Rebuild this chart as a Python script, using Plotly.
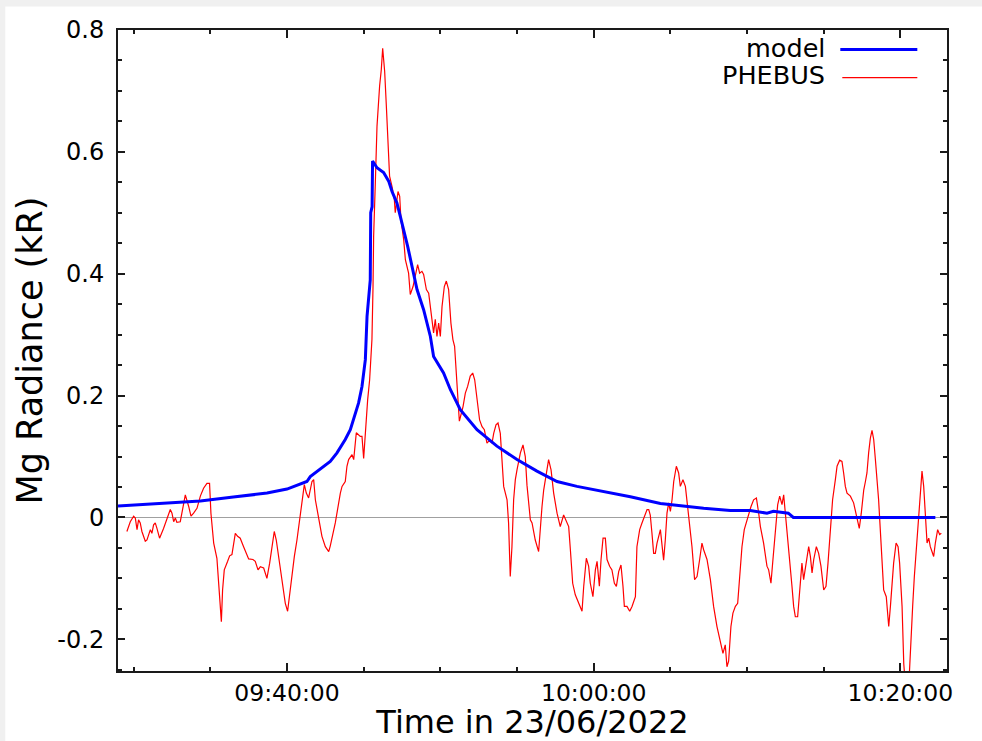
import plotly.graph_objects as go
import pandas as pd

# ---- data (time in minutes after 09:00:00 on 23/06/2022) ----
model_min = [28.98, 31.41, 34.35, 36.50, 38.70, 40.00, 41.30, 41.52, 42.82, 43.26,
             43.80, 44.13, 44.45, 44.67, 44.89, 45.11, 45.22, 45.43, 45.46, 45.55,
             45.58, 45.87, 46.30, 46.63, 46.85, 47.17, 47.39, 47.61, 47.87, 48.48,
             48.91, 49.35, 49.56, 50.21, 50.65, 51.30, 52.39, 53.69, 55.00, 56.30,
             57.61, 58.91, 60.65, 62.39, 64.35, 67.17, 68.91, 70.21, 71.30, 71.72,
             72.69, 73.02, 82.28]
model_val = [0.019, 0.0225, 0.027, 0.0335, 0.040, 0.0466, 0.059, 0.067, 0.092, 0.106,
             0.128, 0.144, 0.172, 0.188, 0.215, 0.259, 0.33, 0.39, 0.50, 0.51,
             0.585, 0.574, 0.566, 0.552, 0.535, 0.516, 0.494, 0.472, 0.445, 0.374,
             0.341, 0.297, 0.264, 0.237, 0.21, 0.177, 0.144, 0.117, 0.095, 0.076,
             0.059, 0.051, 0.043, 0.034, 0.023, 0.015, 0.0115, 0.0115, 0.007, 0.010,
             0.007, 0.0, 0.0]

phebus_min = [
    29.56, 29.78, 30.00, 30.11, 30.22, 30.32, 30.43, 30.54, 30.76, 30.87,
    31.09, 31.19, 31.30, 31.41, 31.52, 31.69, 31.95, 32.17, 32.39, 32.50,
    32.61, 32.72, 32.82, 33.04, 33.22, 33.37, 33.59, 33.74, 33.91, 34.13,
    34.35, 34.56, 34.78, 34.95, 35.04, 35.22, 35.43, 35.54, 35.65, 35.72,
    35.80, 35.91, 36.13, 36.26, 36.41, 36.52, 36.63, 36.78, 36.95, 37.17,
    37.50, 37.78, 37.93, 38.11, 38.26, 38.48, 38.69, 38.87, 39.02, 39.17,
    39.30, 39.45, 39.67, 39.89, 40.04, 40.17, 40.32, 40.48, 40.65, 40.87,
    41.04, 41.13, 41.26, 41.41, 41.63, 41.74, 41.85, 42.06, 42.28, 42.50,
    42.72, 42.82, 43.15, 43.48, 43.59, 43.80, 43.91, 44.02, 44.24, 44.35,
    44.52, 44.78, 44.89, 45.00, 45.11, 45.26, 45.39, 45.54, 45.61, 45.65,
    45.76, 45.87, 46.04, 46.15, 46.24, 46.30, 46.37, 46.48, 46.59, 46.69,
    46.85, 47.00, 47.06, 47.24, 47.35, 47.43, 47.61, 47.72, 47.93, 48.04,
    48.22, 48.37, 48.52, 48.65, 48.80, 48.91, 49.09, 49.24, 49.35, 49.45,
    49.56, 49.67, 49.78, 49.89, 50.00, 50.11, 50.26, 50.39, 50.54, 50.69,
    50.82, 50.93, 51.04, 51.13, 51.24, 51.37, 51.48, 51.63, 51.78, 51.95,
    52.11, 52.24, 52.39, 52.56, 52.72, 52.87, 53.04, 53.22, 53.37, 53.48,
    53.63, 53.76, 53.91, 54.02, 54.13, 54.35, 54.45, 54.56, 54.67, 54.78,
    54.89, 55.00, 55.22, 55.39, 55.54, 55.65, 55.87, 55.98, 56.19, 56.41,
    56.48, 56.63, 56.74, 56.85, 56.95, 57.06, 57.22, 57.35, 57.39, 57.61,
    57.82, 58.04, 58.26, 58.37, 58.48, 58.63, 58.80, 59.02, 59.13, 59.24,
    59.35, 59.52, 59.67, 59.78, 59.95, 60.11, 60.22, 60.37, 60.48, 60.61,
    60.76, 60.87, 61.04, 61.19, 61.35, 61.48, 61.63, 61.78, 61.91, 62.00,
    62.17, 62.35, 62.50, 62.72, 62.82, 63.00, 63.15, 63.30, 63.48, 63.59,
    63.69, 63.80, 63.91, 64.02, 64.13, 64.35, 64.45, 64.56, 64.67, 64.78,
    64.89, 65.00, 65.11, 65.22, 65.39, 65.54, 65.65, 65.82, 65.98, 66.19,
    66.41, 66.58, 66.74, 66.91, 67.06, 67.17, 67.39, 67.61, 67.82, 68.04,
    68.26, 68.43, 68.58, 68.69, 68.80, 68.95, 69.08, 69.24, 69.39, 69.52,
    69.67, 69.82, 69.95, 70.11, 70.26, 70.43, 70.61, 70.76, 70.87, 71.08,
    71.30, 71.41, 71.56, 71.69, 71.85, 72.00, 72.13, 72.28, 72.39, 72.50,
    72.61, 72.78, 72.93, 73.04, 73.15, 73.30, 73.43, 73.58, 73.69, 73.87,
    74.02, 74.13, 74.24, 74.35, 74.52, 74.67, 74.82, 75.00, 75.15, 75.28,
    75.43, 75.58, 75.76, 75.87, 76.04, 76.19, 76.30, 76.41, 76.52, 76.74,
    76.95, 77.17, 77.32, 77.45, 77.61, 77.72, 77.82, 77.93, 78.04, 78.15,
    78.26, 78.37, 78.52, 78.58, 78.69, 78.80, 78.91, 79.08, 79.24, 79.35,
    79.45, 79.56, 79.72, 79.85, 79.95, 80.11, 80.22, 80.37, 80.54, 80.65,
    80.80, 80.91, 81.04, 81.15, 81.26, 81.35, 81.41, 81.52, 81.63, 81.74,
    81.85, 81.95, 82.06, 82.17, 82.28, 82.43, 82.56, 82.67]
phebus_val = [
    -0.023, -0.007, 0.002, -0.001, -0.020, -0.004, -0.009, -0.023, -0.039, -0.037,
    -0.020, -0.026, -0.012, -0.009, -0.018, -0.034, -0.018, -0.004, 0.013, 0.007,
    -0.007, -0.001, -0.008, -0.007, 0.018, 0.037, 0.018, 0.002, 0.007, 0.015,
    0.035, 0.048, 0.056, 0.056, 0.007, -0.042, -0.067, -0.102, -0.135, -0.171,
    -0.119, -0.086, -0.072, -0.063, -0.061, -0.045, -0.026, -0.031, -0.034, -0.048,
    -0.068, -0.069, -0.072, -0.086, -0.081, -0.083, -0.100, -0.075, -0.048, -0.023,
    -0.037, -0.064, -0.097, -0.141, -0.154, -0.124, -0.097, -0.064, -0.037, 0.007,
    0.045, 0.054, 0.040, 0.032, 0.059, 0.062, 0.029, 0.002, -0.031, -0.048,
    -0.056, -0.047, -0.009, 0.040, 0.051, 0.059, 0.084, 0.095, 0.103, 0.095,
    0.139, 0.133, 0.133, 0.097, 0.139, 0.193, 0.226, 0.292, 0.379, 0.461,
    0.549, 0.642, 0.708, 0.735, 0.770, 0.757, 0.732, 0.675, 0.609, 0.560,
    0.543, 0.522, 0.500, 0.535, 0.527, 0.489, 0.456, 0.423, 0.401, 0.366,
    0.379, 0.396, 0.415, 0.401, 0.404, 0.399, 0.374, 0.368, 0.346, 0.319,
    0.303, 0.325, 0.297, 0.319, 0.297, 0.346, 0.379, 0.388, 0.374, 0.319,
    0.292, 0.281, 0.237, 0.188, 0.158, 0.171, 0.182, 0.204, 0.215, 0.232,
    0.237, 0.226, 0.193, 0.160, 0.149, 0.144, 0.122, 0.127, 0.122, 0.138,
    0.152, 0.155, 0.138, 0.100, 0.051, 0.029, -0.009, -0.097, -0.048, 0.029,
    0.062, 0.078, 0.106, 0.119, 0.100, 0.053, -0.004, -0.009, -0.037, -0.056,
    -0.026, 0.018, 0.045, 0.062, 0.073, 0.095, 0.078, 0.051, 0.040, 0.007,
    -0.015, 0.004, -0.009, -0.015, -0.053, -0.108, -0.127, -0.141, -0.146, -0.154,
    -0.113, -0.067, -0.080, -0.108, -0.130, -0.086, -0.072, -0.113, -0.069, -0.034,
    -0.034, -0.069, -0.080, -0.086, -0.108, -0.113, -0.089, -0.078, -0.113, -0.146,
    -0.146, -0.154, -0.146, -0.130, -0.048, -0.020, -0.009, 0.002, 0.013, 0.013,
    0.004, -0.026, -0.059, -0.059, -0.042, -0.020, -0.042, -0.070, -0.037, 0.007,
    0.024, 0.010, 0.029, 0.059, 0.084, 0.073, 0.051, 0.062, 0.051, 0.007,
    -0.048, -0.102, -0.097, -0.069, -0.042, -0.053, -0.069, -0.102, -0.146, -0.179,
    -0.206, -0.223, -0.209, -0.245, -0.236, -0.179, -0.157, -0.146, -0.141, -0.097,
    -0.048, -0.020, -0.009, 0.007, 0.018, 0.029, 0.032, 0.007, -0.015, -0.042,
    -0.080, -0.086, -0.108, -0.069, -0.026, 0.021, 0.035, 0.021, 0.037, 0.007,
    -0.015, -0.069, -0.113, -0.146, -0.163, -0.163, -0.119, -0.075, -0.102, -0.069,
    -0.048, -0.064, -0.091, -0.069, -0.048, -0.059, -0.080, -0.119, -0.113, -0.075,
    -0.020, 0.029, 0.062, 0.084, 0.094, 0.092, 0.073, 0.051, 0.040, 0.035,
    0.024, 0.002, -0.018, 0.007, 0.045, 0.059, 0.073, 0.106, 0.130, 0.143,
    0.128, 0.095, 0.051, 0.029, -0.020, -0.075, -0.119, -0.130, -0.179, -0.146,
    -0.102, -0.075, -0.042, -0.048, -0.075, -0.146, -0.240, -0.290, -0.280, -0.217,
    -0.146, -0.097, -0.053, -0.020, 0.029, 0.056, 0.076, 0.051, -0.004, -0.042,
    -0.034, -0.048, -0.056, -0.064, -0.042, -0.020, -0.028, -0.026]

y_tickvals = [-0.2, 0.0, 0.2, 0.4, 0.6, 0.8]
y_ticktext = ["-0.2", "0", "0.2", "0.4", "0.6", "0.8"]
x_range_min = [28.98, 83.04]

base = pd.Timestamp("2022-06-23 09:00:00")


def to_time(mins):
    return [(base + pd.Timedelta(minutes=m)).strftime("%Y-%m-%d %H:%M:%S.%f") for m in mins]


FONT = "DejaVu Sans"
AX = "#1a1a1a"

fig = go.Figure()
fig.add_trace(go.Scatter(x=to_time(phebus_min), y=phebus_val, mode="lines",
                         name="PHEBUS", line=dict(color="#ff0000", width=1.2)))
fig.add_trace(go.Scatter(x=to_time(model_min), y=model_val, mode="lines",
                         name="model", line=dict(color="#0000ff", width=3)))

fig.update_layout(
    width=982, height=741,
    margin=dict(l=118, r=35, t=30, b=70),
    paper_bgcolor="white", plot_bgcolor="white",
    showlegend=False,
    font=dict(family=FONT, color="black"),
)
fig.update_xaxes(
    type="date", range=to_time(x_range_min), automargin=False,
    tickformat="%H:%M:%S", tick0="2022-06-23 09:40:00", dtick=1200000,
    ticks="inside", ticklen=8, tickwidth=1.5, tickcolor=AX,
    showline=True, linewidth=2, linecolor=AX, mirror="allticks",
    showgrid=False, zeroline=False,
    minor=dict(tick0="2022-06-23 09:40:00", dtick=300000, ticks="inside",
               ticklen=4, tickwidth=1.5, tickcolor=AX, showgrid=False),
    tickfont=dict(size=23.5, family=FONT, color="black"),
    title=dict(text="Time in 23/06/2022", font=dict(size=32, family=FONT, color="black"),
               standoff=7),
)
fig.update_yaxes(
    range=[-0.252, 0.8], automargin=False,
    tickmode="array", tickvals=y_tickvals, ticktext=y_ticktext,
    ticks="inside", ticklen=7, tickwidth=1.5, tickcolor=AX,
    showline=True, linewidth=2, linecolor=AX, mirror="allticks",
    showgrid=False,
    zeroline=True, zerolinecolor="#a0a0a0", zerolinewidth=1,
    minor=dict(tick0=0, dtick=0.05, ticks="inside", ticklen=4, tickwidth=1.5,
               tickcolor=AX, showgrid=False),
    tickfont=dict(size=24, family=FONT, color="black"),
    ticklabelstandoff=7,
    title=dict(text="Mg Radiance (kR)", font=dict(size=35, family=FONT, color="black"),
               standoff=4),
)

# custom legend (text to the left of the line sample), top-right inside the frame
fig.add_annotation(xref="paper", yref="paper", x=0.855, y=0.972, xanchor="right",
                   yanchor="middle", text="model", showarrow=False,
                   font=dict(size=25.5, family=FONT, color="black"))
fig.add_annotation(xref="paper", yref="paper", x=0.855, y=0.930, xanchor="right",
                   yanchor="middle", text="PHEBUS", showarrow=False,
                   font=dict(size=25.5, family=FONT, color="black"))
fig.add_shape(type="line", xref="paper", yref="paper", x0=0.8713, x1=0.9642,
              y0=0.9696, y1=0.9696, line=dict(color="#0000ff", width=3))
fig.add_shape(type="line", xref="paper", yref="paper", x0=0.8737, x1=0.9642,
              y0=0.9258, y1=0.9258, line=dict(color="#ff0000", width=1.2))

# light grey page border strips (top and left)
fig.add_shape(type="rect", xref="paper", yref="paper", x0=-0.2, x1=1.1,
              y0=1.0367, y1=1.06, fillcolor="#f0f0f0", line=dict(width=0), layer="below")
fig.add_shape(type="rect", xref="paper", yref="paper", x0=-0.2, x1=-0.136,
              y0=-0.2, y1=1.06, fillcolor="#f0f0f0", line=dict(width=0), layer="below")

fig.write_html("out.html")
